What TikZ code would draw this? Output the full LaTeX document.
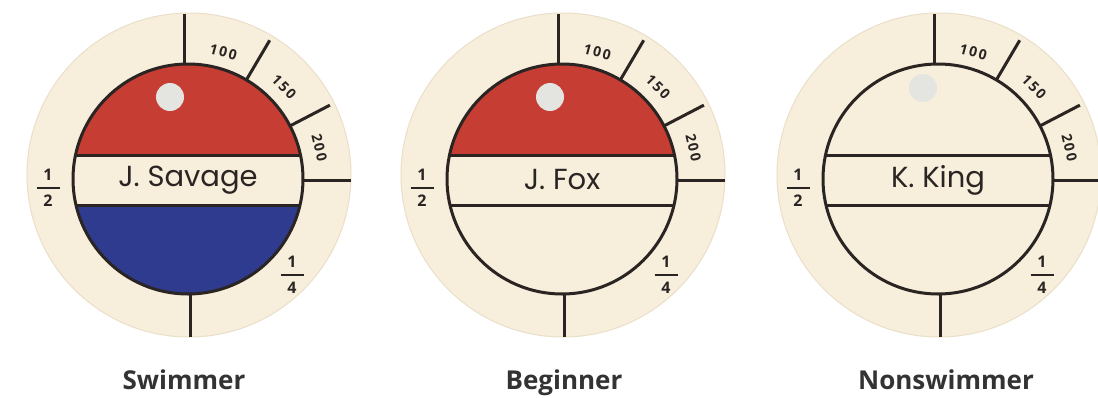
\documentclass[tikz,border=0pt]{standalone}
\usepackage{fontspec}
\setmainfont{Open Sans}
\newfontfamily\namefont{Poppins}
\newfontfamily\numfont{Open Sans}[LetterSpace=14]
\definecolor{cream}{HTML}{F7EEDC}
\definecolor{rim}{HTML}{EADFC8}
\definecolor{inkc}{HTML}{2A2522}
\definecolor{tagred}{HTML}{C63D33}
\definecolor{tagblue}{HTML}{2E3B8F}
\definecolor{holec}{HTML}{E4E4E0}
\definecolor{capc}{HTML}{333333}
\tikzset{
  ink/.style={draw=inkc, line width=3pt},
  numlbl/.style={text=inkc, font=\numfont\bfseries\fontsize{14}{14}\selectfont, inner sep=0pt},
  fraclbl/.style={text=inkc, inner sep=0pt},
  namelbl/.style={text=inkc, font=\namefont\fontsize{29}{29}\selectfont, inner sep=0pt},
  caplbl/.style={text=capc, font=\bfseries\fontsize{26}{26}\selectfont, inner sep=0pt, anchor=base},
}
\newcommand\tagfrac[2]{\fontsize{16}{16}\selectfont\bfseries
  $\displaystyle{\hbox to 23pt{\hss #1\hss}\above 2pt\hbox to 23pt{\hss #2\hss}}$}
% #1 prefix, #2 cx, #3 hole x, #4 hole y, #5 name, #6 top fill, #7 bottom fill
\newcommand\swimtag[7]{%
\begin{scope}[shift={(#2,-179)}]
  \fill[cream, draw=rim, line width=1pt] (1,4) circle (162);
  \begin{scope}
    \clip (0,0) circle (115);
    \fill[#6] (-120,24) rectangle (120,120);
    \fill[#7] (-120,-26) rectangle (120,-120);
  \end{scope}
  \fill[holec] (#3,#4) circle (14);
  \draw[ink] (0,0) circle (115);
  \draw[ink] (-112.5,24) -- (112.5,24);
  \draw[ink] (-112,-26) -- (112,-26);
  \draw[ink] (-4,115) -- (-4,165);
  \draw[ink] (2,-115) -- (2,-158);
  \draw[ink] (115,-1) -- (163,-1);
  \draw[ink] (59.5:115) -- (59.5:161);
  \draw[ink] (27.5:115) -- (27.5:160);
  \node[numlbl, rotate=-15] (#1a) at (74.5:132) {100};
  \node[numlbl, rotate=-46] (#1b) at (43.8:133) {150};
  \node[numlbl, rotate=-77] (#1c) at (13.4:135) {200};
  \node[fraclbl] (#1h) at (-140,-9) {\tagfrac{1}{2}};
  \node[fraclbl] (#1q) at (104,-96) {\tagfrac{1}{4}};
  \node[namelbl] (#1n) at (0,-1) {#5};
\end{scope}}
\begin{document}
\begin{tikzpicture}[x=1pt,y=1pt]
  \useasboundingbox (0,0) rectangle (1098,-397);
  \fill[white] (0,0) rectangle (1098,-397);
  \swimtag{s}{188}{-18}{82}{J. Savage}{tagred}{tagblue}
  \swimtag{b}{562}{-12}{82}{J. Fox}{tagred}{cream}
  \swimtag{n}{938}{-15}{91}{K. King}{cream}{cream}
  \node[caplbl] (scap) at (184,-389) {Swimmer};
  \node[caplbl] (bcap) at (564,-389) {Beginner};
  \node[caplbl] (ncap) at (946,-389) {Nonswimmer};
\end{tikzpicture}
\end{document}
